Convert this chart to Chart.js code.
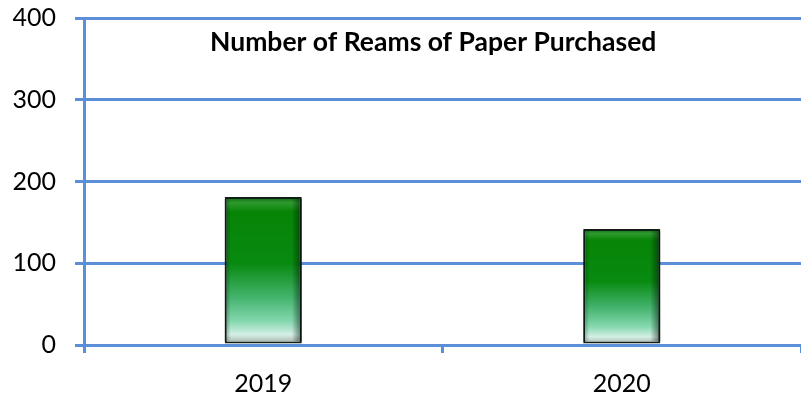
<!DOCTYPE html>
<html>
<head>
<meta charset="utf-8">
<script src="https://cdn.jsdelivr.net/npm/chart.js@4"></script>
<style>
  html, body { margin: 0; padding: 0; background: #ffffff; }
  #wrap { width: 801px; height: 397px; position: relative; }
</style>
</head>
<body>
<div id="wrap"><canvas id="c"></canvas></div>
<script>
const categories = ["2019", "2020"];
const reamsPurchased = [181, 142];
const yTickValues = [0, 100, 200, 300, 400];
const chartTitle = "Number of Reams of Paper Purchased";

const BLUE = "#5b8fd7";
const FONT = "Lato, 'Open Sans', sans-serif";

function barGradient(ctx) {
  const chart = ctx.chart;
  const ys = chart.scales.y;
  if (!ys || ctx.raw == null) return "#008000";
  const top = ys.getPixelForValue(ctx.raw);
  const bottom = ys.getPixelForValue(0);
  if (!isFinite(top) || !isFinite(bottom) || top === bottom) return "#008000";
  const g = chart.ctx.createLinearGradient(0, top, 0, bottom);
  g.addColorStop(0.0, "#0f6a12");
  g.addColorStop(0.04, "#2e9a2e");
  g.addColorStop(0.1, "#068406");
  g.addColorStop(0.45, "#088a10");
  g.addColorStop(0.68, "#44b46e");
  g.addColorStop(0.84, "#84d8ae");
  g.addColorStop(0.93, "#d4efe6");
  g.addColorStop(0.965, "#b9c9c2");
  g.addColorStop(1.0, "#8a8f8c");
  return g;
}

const bevelPlugin = {
  id: "bevel",
  afterDatasetsDraw(chart) {
    const c = chart.ctx;
    chart.getDatasetMeta(0).data.forEach(bar => {
      const w = bar.width;
      const l = bar.x - w / 2, r = bar.x + w / 2;
      const t = bar.y, b = bar.base;
      if (![l, r, t, b].every(isFinite)) return;
      c.save();
      let g = c.createLinearGradient(r - 10, 0, r, 0);
      g.addColorStop(0, "rgba(0,0,0,0)");
      g.addColorStop(1, "rgba(0,20,10,0.55)");
      c.fillStyle = g;
      c.fillRect(r - 10, t + 2, 10, b - t - 4);
      g = c.createLinearGradient(l, 0, l + 6, 0);
      g.addColorStop(0, "rgba(0,20,10,0.35)");
      g.addColorStop(1, "rgba(0,0,0,0)");
      c.fillStyle = g;
      c.fillRect(l, t + 2, 6, b - t - 4);
      c.restore();
    });
  }
};

const titlePlugin = {
  id: "insideTitle",
  afterDraw(chart) {
    const c = chart.ctx;
    const a = chart.chartArea;
    c.save();
    c.font = "bold 26.5px " + FONT;
    c.fillStyle = "#000000";
    c.textAlign = "center";
    c.textBaseline = "middle";
    c.fillText(chartTitle, a.left + (a.right - a.left) * 0.487, a.top + 24);
    c.restore();
  }
};

new Chart(document.getElementById("c"), {
  type: "bar",
  data: {
    labels: categories,
    datasets: [{
      label: chartTitle,
      data: reamsPurchased,
      backgroundColor: barGradient,
      borderColor: "#0e1f16",
      borderWidth: 2,
      borderSkipped: false,
      barPercentage: 1,
      categoryPercentage: 0.215
    }]
  },
  options: {
    responsive: true,
    maintainAspectRatio: false,
    animation: false,
    layout: { autoPadding: false, padding: { top: 18, right: 0, left: 0, bottom: 0 } },
    plugins: {
      legend: { display: false },
      title: { display: false },
      tooltip: { enabled: false }
    },
    scales: {
      x: {
        grid: {
          offset: true,
          drawOnChartArea: false,
          drawTicks: true,
          tickLength: 8,
          color: BLUE,
          lineWidth: 3
        },
        border: { display: true, color: BLUE, width: 3 },
        ticks: {
          color: "#000000",
          font: { family: FONT, size: 25 },
          padding: 16
        },
        afterFit(scale) { scale.height = 52; }
      },
      y: {
        min: 0,
        max: 400,
        afterBuildTicks(scale) { scale.ticks = yTickValues.map(v => ({ value: v })); },
        grid: {
          color: BLUE,
          lineWidth: 3,
          drawTicks: true,
          tickLength: 9
        },
        border: { display: true, color: BLUE, width: 3 },
        ticks: {
          color: "#000000",
          font: { family: FONT, size: 25 },
          padding: 19
        },
        afterFit(scale) {
          scale.width = 84;
          scale.paddingTop = 0;
          scale.paddingBottom = 0;
        }
      }
    }
  },
  plugins: [bevelPlugin, titlePlugin]
});
</script>
</body>
</html>
